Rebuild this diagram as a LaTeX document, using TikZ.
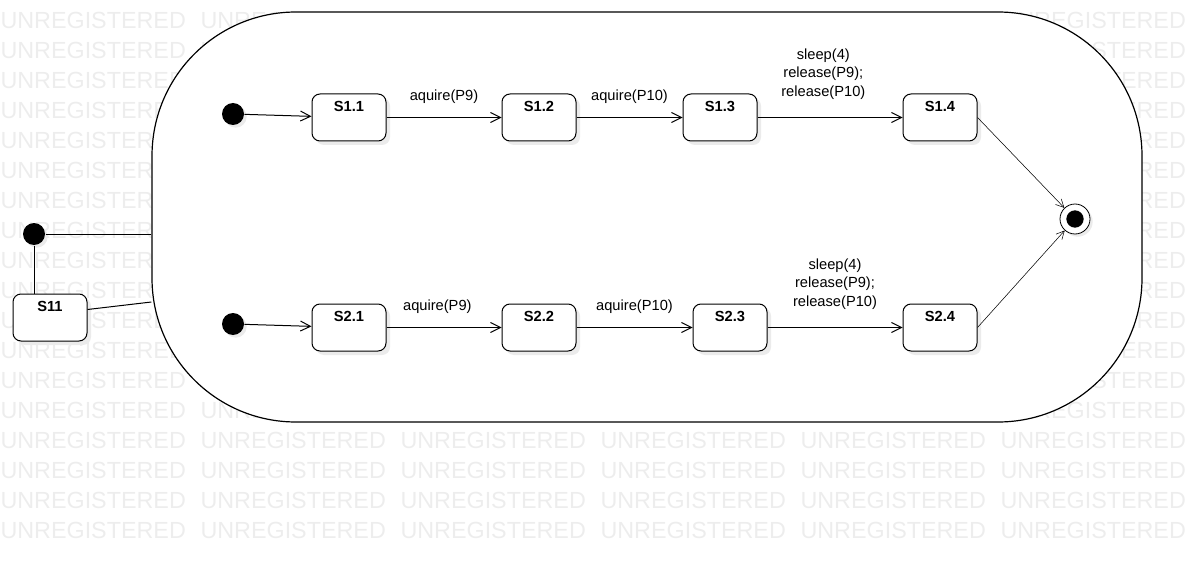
\documentclass[tikz,border=0pt]{standalone}
\usepackage{fontspec}
\setmainfont{Liberation Sans}
\usetikzlibrary{arrows.meta,shadows}

\begin{document}
\begin{tikzpicture}[x=0.75pt,y=-0.75pt,line width=0.75pt,
  >={Straight Barb[length=7.5pt,width=7.5pt]},
  wm/.style={anchor=west,inner sep=0pt,text=black!7,font=\fontsize{17.5}{17.5}\selectfont},
  comp/.style={draw,fill=white,line width=0.9pt,rounded corners=108pt,
    minimum width=742.5pt,minimum height=307.5pt},
  state/.style={rectangle,draw,fill=white,rounded corners=6pt,minimum width=55.5pt,
    inner xsep=2pt,inner ysep=3pt,text height=10pt,text depth=19.25pt,
    font=\fontsize{11}{13}\selectfont\bfseries,
    drop shadow={shadow xshift=3pt,shadow yshift=-3pt,fill=black!8,opacity=1}},
  init/.style={circle,fill=black,inner sep=0pt,minimum size=16.5pt,
    drop shadow={shadow xshift=2pt,shadow yshift=-2pt,fill=black!8,opacity=1}},
  final/.style={circle,draw,fill=white,line width=0.6pt,inner sep=0pt,minimum size=22.5pt,
    drop shadow={shadow xshift=2pt,shadow yshift=-2pt,fill=black!8,opacity=1}},
  dot/.style={circle,fill=black,inner sep=0pt,minimum size=13pt},
  lbl/.style={above=7pt,font=\fontsize{11}{13.9}\selectfont},
  lbl3/.style={above=10pt,align=center,font=\fontsize{11}{13.9}\selectfont}]

  \useasboundingbox (0,0) rectangle (1192,563);

  % watermark (only where the composite state leaves it visible)
  \foreach \r in {0,...,17}
    \foreach \c in {0,5}
      \node[wm] (wm-\r-\c) at (\c*200,20+\r*30) {UNREGISTERED};
  \foreach \r in {14,...,17}
    \foreach \c in {1,...,4}
      \node[wm] (wm-\r-\c) at (\c*200,20+\r*30) {UNREGISTERED};
  \foreach \r in {0,1,13}
    \node[wm] (wm-\r-1) at (200,20+\r*30) {UNREGISTERED};

  \node[comp] (comp) at (647,217) {};
  \path (comp.west) ++(0,85) coordinate (join);

  \node[init] (i0) at (34,234) {};
  \node[state] (s11) at (50,317.5) {S11};

  \node[init] (i1) at (233,114) {};
  \node[state] (s1-1) at (349,117.5) {S1.1};
  \node[state] (s1-2) at (539,117.5) {S1.2};
  \node[state] (s1-3) at (720,117.5) {S1.3};
  \node[state] (s1-4) at (940,117.5) {S1.4};

  \node[init] (i2) at (233,324) {};
  \node[state] (s2-1) at (349,327.5) {S2.1};
  \node[state] (s2-2) at (539,327.5) {S2.2};
  \node[state] (s2-3) at (730,327.5) {S2.3};
  \node[state] (s2-4) at (940,327.5) {S2.4};

  \node[final] (fin) at (1075,219) {};
  \node[dot] (fin-dot) at (fin) {};

  \draw (i0) -- (i0 -| comp.west);
  \draw (i0) -- (i0 |- s11.north);
  \draw ([yshift=6pt]s11.east) -- (join);

  \path[->]
    (i1) edge (s1-1)
    (s1-1) edge node[lbl] {aquire(P9)} (s1-2)
    (s1-2) edge node[lbl] {aquire(P10)} (s1-3)
    (s1-3) edge node[lbl3,xshift=-5pt] {sleep(4)\\release(P9);\\release(P10)} (s1-4)
    (i2) edge (s2-1)
    (s2-1) edge node[lbl,xshift=-5pt] {aquire(P9)} (s2-2)
    (s2-2) edge node[lbl] {aquire(P10)} (s2-3)
    (s2-3) edge node[lbl3] {sleep(4)\\release(P9);\\release(P10)} (s2-4);

  \path[->,line width=0.4pt,>={Straight Barb[length=6pt,width=6pt]}]
    (s1-4.east) edge (fin)
    (s2-4.east) edge (fin);

\end{tikzpicture}
\end{document}
